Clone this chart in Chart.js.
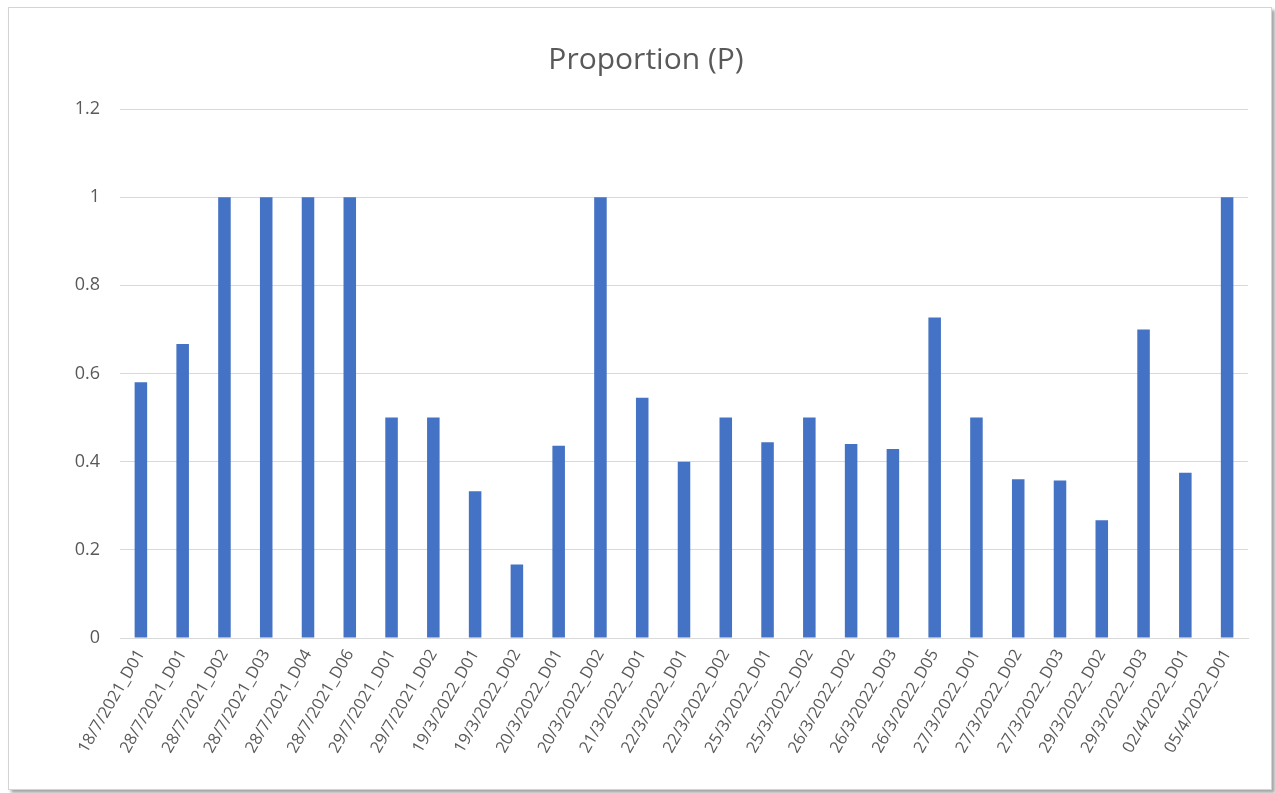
<!DOCTYPE html>
<html>
<head>
<meta charset="utf-8">
<script src="https://cdn.jsdelivr.net/npm/chart.js@4"></script>
<style>
  html, body { margin: 0; padding: 0; background: #ffffff; }
  body { width: 1275px; height: 793px; position: relative; overflow: hidden; }
  .frame {
    position: absolute; left: 8px; top: 7px; width: 1262px; height: 781px;
    border: 1px solid #d4d4d4; background: #ffffff;
    box-shadow: 3px 3px 3px rgba(0,0,0,0.35);
  }
  #wrap { position: absolute; left: 0; top: 0; width: 1275px; height: 793px; }
</style>
</head>
<body>
<div class="frame"></div>
<div id="wrap"><canvas id="chart" width="1275" height="793"></canvas></div>
<script>
// Sample identifiers (date_device) and their proportions
const categories = [
  "18/7/2021_D01", "28/7/2021_D01", "28/7/2021_D02", "28/7/2021_D03",
  "28/7/2021_D04", "28/7/2021_D06", "29/7/2021_D01", "29/7/2021_D02",
  "19/3/2022_D01", "19/3/2022_D02", "20/3/2022_D01", "20/3/2022_D02",
  "21/3/2022_D01", "22/3/2022_D01", "22/3/2022_D02", "25/3/2022_D01",
  "25/3/2022_D02", "26/3/2022_D02", "26/3/2022_D03", "26/3/2022_D05",
  "27/3/2022_D01", "27/3/2022_D02", "27/3/2022_D03", "29/3/2022_D02",
  "29/3/2022_D03", "02/4/2022_D01", "05/4/2022_D01"
];
const proportion = [
  0.58, 0.667, 1, 1,
  1, 1, 0.5, 0.5,
  0.333, 0.167, 0.436, 1,
  0.545, 0.4, 0.5, 0.444,
  0.5, 0.44, 0.429, 0.727,
  0.5, 0.36, 0.357, 0.267,
  0.7, 0.375, 1
];
const yTicks = [0, 0.2, 0.4, 0.6, 0.8, 1, 1.2];

const textColor = "#595959";
const gridColor = "#d9d9d9";
const fontFamily = "'Open Sans', 'Liberation Sans', sans-serif";

new Chart(document.getElementById("chart"), {
  type: "bar",
  data: {
    labels: categories,
    datasets: [{
      label: "Proportion (P)",
      data: proportion,
      backgroundColor: "#4472c4",
      borderWidth: 0,
      barPercentage: 0.3,
      categoryPercentage: 1.0
    }]
  },
  options: {
    responsive: false,
    animation: false,
    layout: { padding: { left: 44, right: 27, top: 0, bottom: 0 } },
    plugins: {
      legend: { display: false },
      tooltip: { enabled: false },
      title: {
        display: true,
        text: "Proportion (P)",
        color: textColor,
        font: { family: fontFamily, size: 30, weight: "normal" },
        padding: { top: 42, bottom: 31 }
      }
    },
    scales: {
      x: {
        grid: { display: false, drawTicks: false },
        border: { display: true, color: gridColor, width: 1 },
        ticks: {
          color: textColor,
          font: { family: fontFamily, size: 16.5 },
          minRotation: 60,
          maxRotation: 60,
          autoSkip: false,
          padding: 8
        },
        afterFit: (scale) => { scale.height = 155; }
      },
      y: {
        min: 0,
        max: 1.2,
        afterBuildTicks: (scale) => { scale.ticks = yTicks.map(v => ({ value: v })); },
        grid: { color: gridColor, lineWidth: 1, drawTicks: false },
        border: { display: false },
        ticks: {
          color: textColor,
          font: { family: fontFamily, size: 18 },
          padding: 20,
          callback: (v) => String(Math.round(v * 10) / 10)
        },
        afterFit: (scale) => { scale.width = 76; }
      }
    }
  }
});
</script>
</body>
</html>
